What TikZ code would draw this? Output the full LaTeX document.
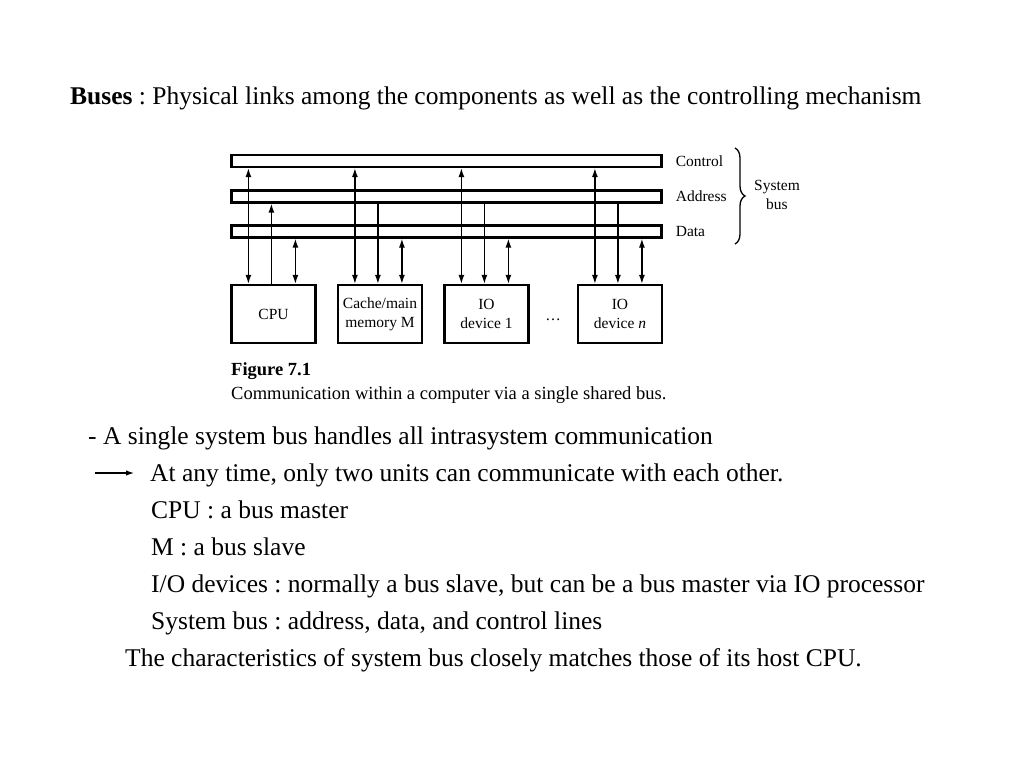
\documentclass[tikz,border=0pt]{standalone}
\usepackage{fontspec}
\setmainfont{Liberation Serif}
\usetikzlibrary{arrows.meta,positioning,decorations.pathreplacing}
\newcommand{\figfont}{\fontsize{15.5}{19}\selectfont}
\newcommand{\capfont}{\fontsize{18.5}{22}\selectfont}
\newcommand{\bodyfont}{\fontsize{25.5}{30}\selectfont}
\frenchspacing
\tikzset{
  bus/.style={draw, line width=2.2pt, minimum width=430pt, minimum height=12pt, inner sep=0pt},
  unit/.style={draw, line width=2.2pt, minimum width=84pt, minimum height=58pt, align=center, font=\figfont},
  lbl/.style={font=\figfont, inner sep=1pt},
  link/.style={line width=1.4pt},
  body/.style={anchor=base west, inner sep=0pt, font=\bodyfont},
  >={Latex[length=9pt,width=6pt]},
}
\begin{document}
\begin{tikzpicture}[x=1pt,y=-1pt]
\useasboundingbox (0,0) rectangle (1024,768);
% title
\node[body] (title) at (70,104) {\textbf{Buses} : Physical links among the components as well as the controlling mechanism};
% system bus
\node[bus] (ctrl) at (446.5,161) {};
\node[bus] (addr) at (446.5,196.5) {};
\node[bus] (data) at (446.5,231.5) {};
\node[lbl, right=12pt of ctrl] (ctrllbl) {Control};
\node[lbl, right=12pt of addr] (addrlbl) {Address};
\node[lbl, right=12pt of data] (datalbl) {Data};
\coordinate (brtop) at (735,148);
\coordinate (brbot) at (735,244);
\draw[line width=1.3pt, decorate, decoration={brace, amplitude=10pt}] (brtop) -- (brbot);
\node[lbl, align=center] (sysbus) at (777,195) {System\\bus};
% units
\node[unit] (cpu) at (273.5,314) {CPU};
\node[unit] (mem) at (380,314) {Cache/main\\memory M};
\node[unit] (io1) at (486.5,314) {IO\\device 1};
\node[unit] (ion) at (620,314) {IO\\device \textit{n}};
\node[lbl, anchor=base] (dots) at (553,320) {\dots};
% links to the bus
\foreach \u in {cpu,mem,io1,ion}{
  \coordinate (\u-c) at ([xshift=18pt]\u.north west);
  \coordinate (\u-a) at ([xshift=41pt]\u.north west);
  \coordinate (\u-d) at ([xshift=65pt]\u.north west);
  \draw[link, <->] (\u-c) -- (\u-c |- ctrl.south);
  \draw[link, <->] (\u-d) -- (\u-d |- data.south);
}
\draw[link, ->] (cpu-a) -- (cpu-a |- addr.south);
\foreach \u in {mem,io1,ion}
  \draw[link, <-] (\u-a) -- (\u-a |- addr.south);
% caption
\node[anchor=base west, inner sep=0pt, font=\capfont] (fig) at (231,375) {\textbf{Figure 7.1}};
\node[anchor=base west, inner sep=0pt, font=\capfont] (cap) at (231,399) {Communication within a computer via a single shared bus.};
% notes
\node[body] (l1) at (88,444) {- A single system bus handles all intrasystem communication};
\node[body] (l2) at (150,481) {At any time, only two units can communicate with each other.};
\node[body] (l3) at (151,518) {CPU : a bus master};
\node[body] (l4) at (151,555) {M : a bus slave};
\node[body] (l5) at (151,592) {I/O devices : normally a bus slave, but can be a bus master via IO processor};
\node[body] (l6) at (151,629) {System bus : address, data, and control lines};
\node[body] (l7) at (125,666) {The characteristics of system bus closely matches those of its host CPU.};
\coordinate (arrs) at (95,473);
\coordinate (arre) at (134,473);
\draw[line width=1.2pt, -{Latex[length=8pt,width=5.5pt]}] (arrs) -- (arre);
\end{tikzpicture}
\end{document}
